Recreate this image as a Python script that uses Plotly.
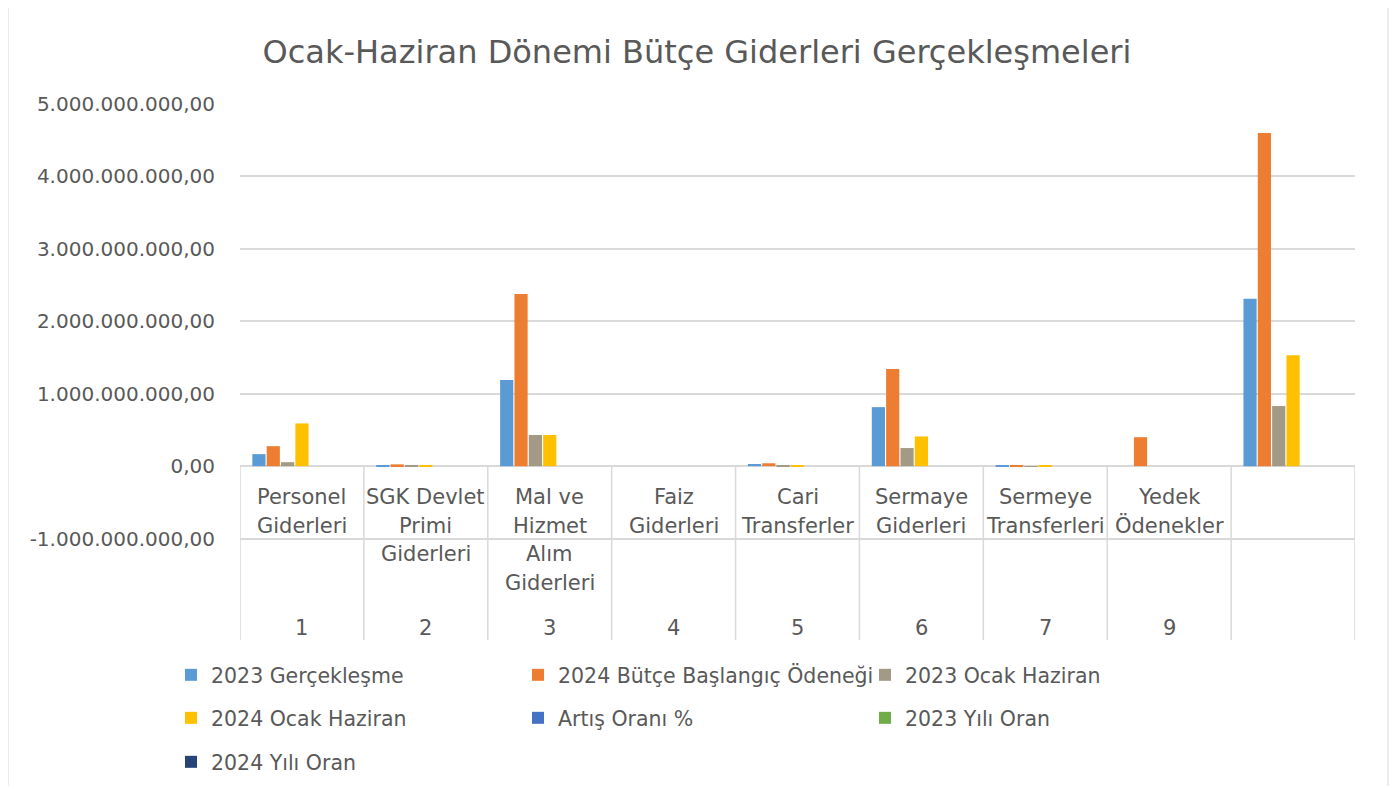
import plotly.graph_objects as go

# ---------------- data ----------------
codes = ["1", "2", "3", "4", "5", "6", "7", "9", ""]
names = ["Personel Giderleri", "SGK Devlet Primi Giderleri", "Mal ve Hizmet Alım Giderleri",
         "Faiz Giderleri", "Cari Transferler", "Sermaye Giderleri", "Sermeye Transferleri",
         "Yedek Ödenekler", ""]

gerceklesme_2023 = [166e6, 5e6, 1190e6, 0, 30e6, 815e6, 3e6, 0, 2310e6]
butce_2024 = [276e6, 25e6, 2376e6, 0, 40e6, 1340e6, 15e6, 400e6, 4600e6]
ocak_haziran_2023 = [55e6, 3e6, 430e6, 0, 5e6, 250e6, 2e6, 0, 830e6]
ocak_haziran_2024 = [590e6, 5e6, 430e6, 0, 15e6, 410e6, 3e6, 0, 1530e6]
artis_orani = [0, 0, 0, 0, 0, 0, 0, 0, 0]
oran_2023 = [0, 0, 0, 0, 0, 0, 0, 0, 0]
oran_2024 = [0, 0, 0, 0, 0, 0, 0, 0, 0]

series_names = ["2023 Gerçekleşme", "2024 Bütçe Başlangıç Ödeneği", "2023 Ocak Haziran",
                "2024 Ocak Haziran", "Artış Oranı %", "2023 Yılı Oran", "2024 Yılı Oran"]
series_values = [gerceklesme_2023, butce_2024, ocak_haziran_2023, ocak_haziran_2024,
                 artis_orani, oran_2023, oran_2024]
colors = ["#5B9BD5", "#ED7D31", "#A39A86", "#FFC000", "#4472C4", "#70AD47", "#264478"]
legend_ids = ["legend", "legend", "legend", "legend2", "legend2", "legend2", "legend3"]

tick_vals = [-1e9, 0, 1e9, 2e9, 3e9, 4e9, 5e9]
tick_text = ["-1.000.000.000,00", "0,00", "1.000.000.000,00", "2.000.000.000,00",
             "3.000.000.000,00", "4.000.000.000,00", "5.000.000.000,00"]

TEXT = "#595959"
GRID = "#D9D9D9"
FONT = "DejaVu Sans"

# page body has an 8px margin: figure coordinates = screen - 8
OFF = 8
W, H = 1397 - OFF, 789 - OFF
PL, PR, PT, PB = 240 - OFF, 1355 - OFF, 104 - OFF, 640 - OFF
PW, PH = PR - PL, PB - PT

xpos = list(range(len(codes)))

fig = go.Figure()
for name, vals, col, lg in zip(series_names, series_values, colors, legend_ids):
    fig.add_trace(go.Bar(x=xpos, y=vals, name=name, marker=dict(color=col, line=dict(width=0)),
                         legend=lg))


def wrap(text, width=10):
    words = text.split()
    lines, cur = [], ""
    for w in words:
        if not cur:
            cur = w
        elif len(cur) + 1 + len(w) <= width:
            cur += " " + w
        else:
            lines.append(cur)
            cur = w
    if cur:
        lines.append(cur)
    return lines


annotations = []
for i, (nm, cd) in enumerate(zip(names, codes)):
    for j, line in enumerate(wrap(nm)):
        annotations.append(dict(x=i, y=0, xref="x", yref="y", text=line, showarrow=False,
                                yanchor="middle", yshift=-(31 + j * 28.5),
                                font=dict(family=FONT, size=21, color=TEXT)))
    if cd:
        annotations.append(dict(x=i, y=0, xref="x", yref="y", text=cd, showarrow=False,
                                yanchor="middle", yshift=-162,
                                font=dict(family=FONT, size=21, color=TEXT)))

shapes = []
for k in range(len(codes) + 1):
    shapes.append(dict(type="line", xref="x", yref="y", x0=k - 0.5, x1=k - 0.5,
                       y0=0, y1=-2.4e9, line=dict(color=GRID, width=1.5), layer="below"))
for sx in (8, 1388):
    shapes.append(dict(type="line", xref="paper", yref="paper",
                       x0=(sx - 240) / PW, x1=(sx - 240) / PW,
                       y0=(640 - 786) / PH, y1=(640 - 8) / PH,
                       line=dict(color=GRID, width=1)))

leg_common = dict(orientation="h", xanchor="left", yanchor="middle",
                  font=dict(family=FONT, size=20.5, color=TEXT),
                  entrywidth=302, entrywidthmode="pixels", itemwidth=30,
                  bgcolor="rgba(0,0,0,0)")
lx = (171 - 240) / PW

fig.update_layout(
    width=W, height=H, autosize=False,
    paper_bgcolor="white", plot_bgcolor="white",
    margin=dict(l=PL, r=W - PR, t=PT, b=H - PB, autoexpand=False),
    title=dict(text="Ocak-Haziran Dönemi Bütçe Giderleri Gerçekleşmeleri",
               x=(697 - OFF) / W, xanchor="center", y=1 - (52 - OFF) / H, yanchor="middle",
               font=dict(family=FONT, size=32, color=TEXT)),
    barmode="group", bargap=0.19, bargroupgap=0.08,
    xaxis=dict(range=[-0.5, 8.5], showticklabels=False, showgrid=False, zeroline=False,
               showline=False, ticks=""),
    yaxis=dict(range=[-2.4e9, 5.0e9], tickvals=tick_vals, ticktext=tick_text,
               showgrid=True, gridcolor=GRID, gridwidth=1.5, zeroline=True,
               zerolinecolor=GRID, zerolinewidth=1.5, showline=False, ticks="",
               ticklabelstandoff=24,
               tickfont=dict(family=FONT, size=20, color=TEXT)),
    legend=dict(x=lx, y=(640 - 675) / PH, **leg_common),
    legend2=dict(x=lx, y=(640 - 718) / PH, **leg_common),
    legend3=dict(x=lx, y=(640 - 762) / PH, **leg_common),
    annotations=annotations,
    shapes=shapes,
)

fig.write_html("out.html")
